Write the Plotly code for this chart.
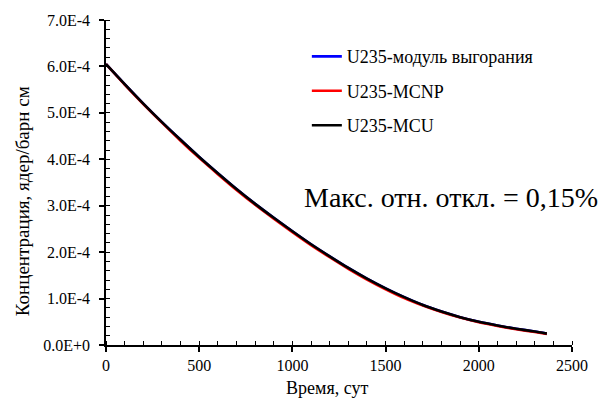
import plotly.graph_objects as go

# ---- data ----
time_days = [0, 100, 200, 300, 400, 500, 600, 700, 800, 900, 1000, 1100, 1200,
             1300, 1400, 1500, 1600, 1700, 1800, 1900, 2000, 2100, 2200, 2300, 2365]
# concentrations in units of 1E-4 nuclei/(barn cm)
u235_burnup_module = [6.05, 5.62, 5.20, 4.80, 4.42, 4.05, 3.70, 3.36, 3.04, 2.74, 2.45, 2.17, 1.91,
                      1.66, 1.43, 1.22, 1.03, 0.86, 0.72, 0.60, 0.50, 0.42, 0.35, 0.29, 0.245]
u235_mcnp = [6.05, 5.61, 5.19, 4.79, 4.40, 4.03, 3.68, 3.34, 3.02, 2.72, 2.43, 2.15, 1.89,
             1.64, 1.41, 1.20, 1.01, 0.85, 0.71, 0.59, 0.49, 0.41, 0.34, 0.28, 0.24]
u235_mcu = [6.05, 5.62, 5.20, 4.80, 4.42, 4.05, 3.70, 3.36, 3.04, 2.74, 2.45, 2.17, 1.91,
            1.66, 1.43, 1.22, 1.03, 0.86, 0.72, 0.60, 0.50, 0.42, 0.35, 0.29, 0.245]

series_names = ["U235-модуль выгорания", "U235-MCNP", "U235-MCU"]
series_colors = ["#0000FF", "#FF0000", "#000000"]

y_tickvals = [0, 1e-4, 2e-4, 3e-4, 4e-4, 5e-4, 6e-4, 7e-4]
y_ticktext = ["0.0E+0", "1.0E-4", "2.0E-4", "3.0E-4", "4.0E-4", "5.0E-4", "6.0E-4", "7.0E-4"]
x_tickvals = [0, 500, 1000, 1500, 2000, 2500]

x_title = "Время, сут"
y_title = "Концентрация, ядер/барн см"
note_text = "Макс. отн. откл. = 0,15%"

SCALE = 1e-4
FONT = "'Liberation Serif', 'Times New Roman', 'DejaVu Serif', serif"

fig = go.Figure()
for i, (name, vals, col) in enumerate(zip(series_names,
                                          [u235_burnup_module, u235_mcnp, u235_mcu],
                                          series_colors)):
    fig.add_trace(go.Scatter(
        x=time_days, y=[v * SCALE for v in vals], mode="lines",
        name=name, legendgroup=f"g{i}",
        line=dict(color=col, width=2.6, shape="spline", smoothing=0.6),
    ))

axis_common = dict(showgrid=False, zeroline=False, showline=True, linecolor="black",
                   linewidth=1.5, tickcolor="black", tickwidth=1.5)

fig.update_layout(
    width=600, height=399,
    margin=dict(l=106, r=23, t=18, b=54),
    paper_bgcolor="white", plot_bgcolor="white",
    font=dict(family=FONT, color="black", size=16),
    showlegend=True,
    legend=dict(x=0.431, y=0.944, xanchor="left", yanchor="top",
                bgcolor="rgba(0,0,0,0)", font=dict(size=18, family=FONT),
                tracegroupgap=8, itemwidth=30),
    xaxis=dict(range=[0, 2500], tickvals=x_tickvals, ticks="outside", ticklen=5,
               tickfont=dict(size=16, family=FONT), minor=dict(dtick=100, ticks="inside", ticklen=4,
                                                   tickcolor="black", tickwidth=1.2),
               **axis_common),
    yaxis=dict(range=[0, 7e-4], tickvals=y_tickvals, ticktext=y_ticktext, ticks="outside",
               ticklen=5, tickfont=dict(size=16, family=FONT), ticklabelstandoff=6,
               minor=dict(tickvals=[k * 2e-5 for k in range(36)], ticks="inside", ticklen=4,
                          tickcolor="black", tickwidth=1.2),
               **axis_common),
    xaxis2=dict(overlaying="x", anchor="y", side="bottom", range=[0, 2500], tickvals=x_tickvals,
                ticks="inside", ticklen=5, showticklabels=False, showgrid=False, zeroline=False,
                showline=False, tickcolor="black", tickwidth=1.5),
    yaxis2=dict(overlaying="y", anchor="x", side="left", range=[0, 7e-4], tickvals=y_tickvals,
                ticks="inside", ticklen=5, showticklabels=False, showgrid=False, zeroline=False,
                showline=False, tickcolor="black", tickwidth=1.5),
)

# axis titles and note as annotations for exact placement
fig.add_annotation(text=x_title, xref="paper", yref="paper", x=0.475, y=-0.1315,
                   xanchor="center", yanchor="middle", showarrow=False,
                   font=dict(size=18, family=FONT))
fig.add_annotation(text=y_title, xref="paper", yref="paper", x=-0.18, y=0.443,
                   xanchor="center", yanchor="middle", textangle=-90, showarrow=False,
                   font=dict(size=19, family=FONT))
fig.add_annotation(text=note_text, xref="paper", yref="paper", x=1.06, y=0.455,
                   xanchor="right", yanchor="middle", showarrow=False,
                   font=dict(size=28, family=FONT))

fig.write_html("out.html", config={"displayModeBar": False},
               post_script="document.body.style.margin='0';document.body.style.overflow='hidden';")
